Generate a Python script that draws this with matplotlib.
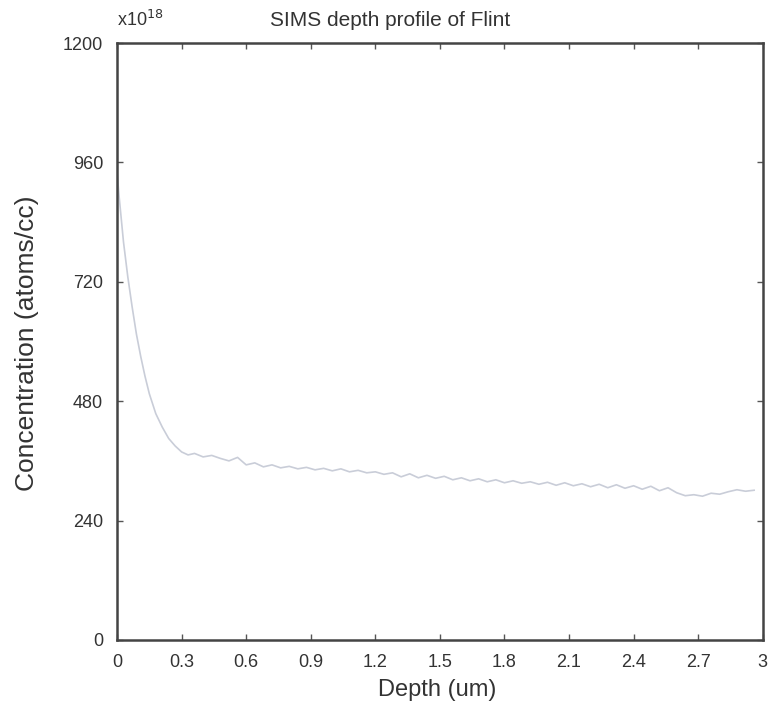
import matplotlib
matplotlib.use("Agg")
import matplotlib.pyplot as plt

plt.rcParams['font.family'] = ['Liberation Sans', 'DejaVu Sans']

# depth in um, concentration in units of 1e18 atoms/cc
depth = [0.0, 0.01, 0.02, 0.03, 0.05, 0.07, 0.09, 0.11, 0.13, 0.15, 0.18, 0.21, 0.24, 0.27, 0.30,
         0.33, 0.36, 0.40, 0.44, 0.48, 0.52, 0.56, 0.60, 0.64, 0.68, 0.72, 0.76, 0.80, 0.84, 0.88,
         0.92, 0.96, 1.00, 1.04, 1.08, 1.12, 1.16, 1.20, 1.24, 1.28, 1.32, 1.36, 1.40, 1.44, 1.48,
         1.52, 1.56, 1.60, 1.64, 1.68, 1.72, 1.76, 1.80, 1.84, 1.88, 1.92, 1.96, 2.00, 2.04, 2.08,
         2.12, 2.16, 2.20, 2.24, 2.28, 2.32, 2.36, 2.40, 2.44, 2.48, 2.52, 2.56, 2.60, 2.64, 2.68,
         2.72, 2.76, 2.80, 2.84, 2.88, 2.92, 2.96]
conc = [940, 890, 845, 800, 730, 670, 615, 570, 530, 495, 455, 428, 405, 390, 378,
        372, 375, 368, 371, 365, 360, 367, 352, 356, 348, 352, 346, 349, 344, 347,
        342, 345, 340, 344, 338, 341, 336, 338, 333, 336, 328, 334, 326, 331, 325,
        329, 322, 326, 320, 324, 318, 322, 316, 320, 315, 318, 313, 317, 311, 316,
        310, 314, 308, 313, 306, 312, 305, 310, 303, 309, 300, 306, 296, 290, 292,
        289, 295, 293, 298, 302, 299, 301]

x_ticks = [0, 0.3, 0.6, 0.9, 1.2, 1.5, 1.8, 2.1, 2.4, 2.7, 3]
x_labels = ["0", "0.3", "0.6", "0.9", "1.2", "1.5", "1.8", "2.1", "2.4", "2.7", "3"]
y_ticks = [0, 240, 480, 720, 960, 1200]

txt = "#333333"
fig = plt.figure(figsize=(7.72, 7.11), dpi=100)
ax = fig.add_axes([0.1516, 0.0999, 0.8364, 0.8396])

ax.plot(depth, conc, color="#c9cdd8", linewidth=1.2)

ax.set_xlim(0, 3)
ax.set_ylim(0, 1200)
ax.set_xticks(x_ticks)
ax.set_xticklabels(x_labels)
ax.set_yticks(y_ticks)
ax.tick_params(direction="in", top=True, right=True, length=4, width=1,
               colors="#555555", labelcolor=txt, labelsize=13, pad=10)
for s in ax.spines.values():
    s.set_color("#444444")
    s.set_linewidth(1.8)

# title sits left of the axes centre in the original
fig.text(390 / 772, 1 - 20 / 711, "SIMS depth profile of Flint", fontsize=15,
         color=txt, ha="center", va="center")
fig.text(437 / 772, 1 - 690 / 711, "Depth (um)", fontsize=17, color=txt,
         ha="center", va="center")
fig.text(27 / 772, 1 - 343 / 711, "Concentration (atoms/cc)", fontsize=19,
         color=txt, ha="center", va="center", rotation=90)
fig.text(117 / 772, 1 - 20 / 711, r"x10$^{18}$", fontsize=13,
         color=txt, ha="left", va="center")

fig.savefig("out.png", dpi=100)
